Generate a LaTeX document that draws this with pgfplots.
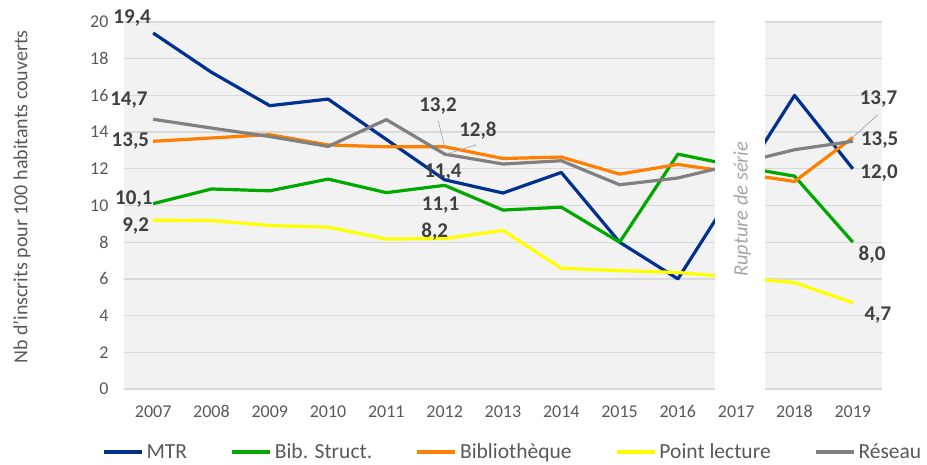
\documentclass[border=0pt]{standalone}
\usepackage{fontspec}
\setmainfont{Carlito}
\usepackage{pgfplots}
\pgfplotsset{compat=1.18}
\definecolor{mtr}{HTML}{003090}
\definecolor{bib}{HTML}{00A800}
\definecolor{bibl}{HTML}{FF8000}
\definecolor{pl}{HTML}{FFFF00}
\definecolor{res}{HTML}{808080}
\definecolor{txt}{HTML}{595959}
\definecolor{lbl}{HTML}{404040}
\definecolor{grd}{HTML}{D9D9D9}
\definecolor{bg}{HTML}{F2F2F2}
\definecolor{lead}{HTML}{A6A6A6}
\begin{document}
\begin{tikzpicture}
\useasboundingbox (0,0) rectangle (927pt,464pt);
\begin{axis}[
  at={(124pt,75pt)}, anchor=south west, scale only axis,
  width=758pt, height=367pt,
  xmin=2006.5, xmax=2019.5, ymin=0, ymax=20,
  xtick={2007,...,2019}, ytick={0,2,...,20},
  axis background/.style={fill=bg},
  axis line style={draw=none}, major tick length=0pt,
  ymajorgrids, grid style={grd, line width=1.3pt},
  tick label style={font=\fontsize{18}{21}\selectfont, text=txt},
  /pgf/number format/assume math mode=true,
  xticklabel style={/pgf/number format/1000 sep={}, yshift=-13pt},
  yticklabel style={xshift=-12pt},
  clip=false,
  legend columns=5,
  legend style={draw=none, fill=none, at={(axis description cs:0.5125,-0.172)}, anchor=center,
    font=\fontsize{21.5}{23}\selectfont, text=txt,
    /tikz/every odd column/.append style={column sep=1pt},
    /tikz/every even column/.append style={column sep=41pt}},
  legend image code/.code={\draw[#1, line width=3.8pt] (0pt,0pt) -- (38pt,0pt);},
  every axis plot/.append style={line width=3.2pt, line join=round},
]
\addplot[mtr] coordinates {(2007,19.4)(2008,17.26)(2009,15.44)(2010,15.8)(2011,13.6)(2012,11.4)(2013,10.68)(2014,11.8)(2015,8.0)(2016,6.0)(2017,11.0)(2018,16.0)(2019,12.0)};
\addlegendentry{MTR}
\addplot[bib] coordinates {(2007,10.1)(2008,10.9)(2009,10.8)(2010,11.44)(2011,10.7)(2012,11.1)(2013,9.75)(2014,9.91)(2015,8.0)(2016,12.8)(2017,12.15)(2018,11.6)(2019,8.0)};
\addlegendentry{Bib. Struct.}
\addplot[bibl] coordinates {(2007,13.5)(2008,13.68)(2009,13.86)(2010,13.3)(2011,13.2)(2012,13.2)(2013,12.56)(2014,12.64)(2015,11.71)(2016,12.24)(2017,11.78)(2018,11.31)(2019,13.7)};
\addlegendentry{Bibliothèque}
\addplot[pl] coordinates {(2007,9.2)(2008,9.18)(2009,8.91)(2010,8.82)(2011,8.17)(2012,8.2)(2013,8.64)(2014,6.58)(2015,6.45)(2016,6.35)(2017,6.08)(2018,5.8)(2019,4.7)};
\addlegendentry{Point lecture}
\addplot[res] coordinates {(2007,14.7)(2008,14.22)(2009,13.76)(2010,13.22)(2011,14.68)(2012,12.8)(2013,12.26)(2014,12.44)(2015,11.13)(2016,11.5)(2017,12.26)(2018,13.04)(2019,13.5)};
\addlegendentry{Réseau}
% gap
\fill[white] (axis cs:2016.64,-0.2) rectangle (axis cs:2017.5,20.2);
\node[rotate=90, font=\fontsize{20.5}{22}\selectfont\itshape, text=lead] at (axis cs:2017.1,9.8) {Rupture de série};
% leaders
\draw[lead, line width=0.7pt] (axis cs:2011.89,14.6) -- (axis cs:2012,13.2);
\draw[lead, line width=0.7pt] (axis cs:2012.54,13.3) -- (axis cs:2012.02,12.8);
\draw[lead, line width=0.7pt] (axis cs:2019.43,14.95) -- (axis cs:2019.0,13.72);
% labels
\begin{scope}[every node/.style={font=\fontsize{21}{24}\selectfont\bfseries, text=lbl, inner sep=0pt}]
\node at (axis cs:2006.64,20.2) {19,4};
\node at (axis cs:2006.585,15.77) {14,7};
\node at (axis cs:2006.61,13.49) {13,5};
\node at (axis cs:2006.67,10.35) {10,1};
\node at (axis cs:2006.70,8.89) {9,2};
\node at (axis cs:2011.885,15.44) {13,2};
\node at (axis cs:2012.57,14.09) {12,8};
\node at (axis cs:2011.97,11.8) {11,4};
\node at (axis cs:2011.93,10.04) {11,1};
\node at (axis cs:2011.83,8.58) {8,2};
\node at (axis cs:2019.44,15.8) {13,7};
\node at (axis cs:2019.46,13.58) {13,5};
\node at (axis cs:2019.45,11.77) {12,0};
\node at (axis cs:2019.33,7.31) {8,0};
\node at (axis cs:2019.43,4.04) {4,7};
\end{scope}
\node[rotate=90, font=\fontsize{20}{22}\selectfont, text=txt] at (axis description cs:-0.1346,0.523) {Nb d'inscrits pour 100 habitants couverts};
\end{axis}
\end{tikzpicture}
\end{document}
